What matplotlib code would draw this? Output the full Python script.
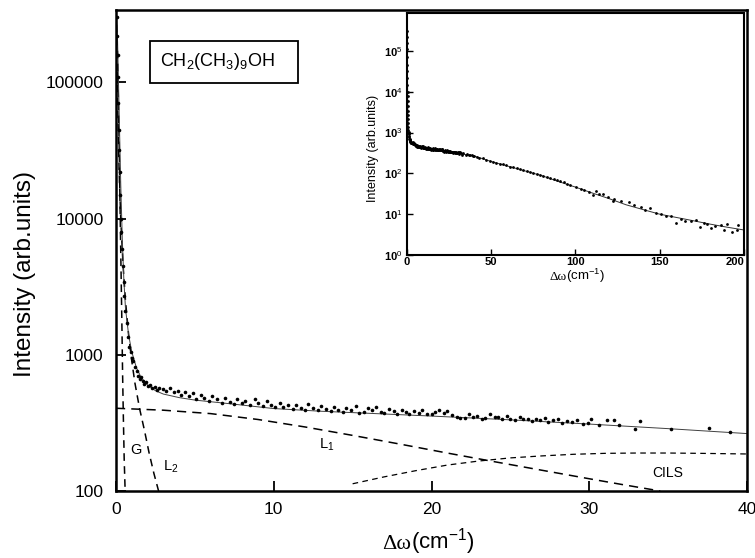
import matplotlib
matplotlib.use("Agg")
import matplotlib.pyplot as plt
from matplotlib.ticker import FixedLocator, NullLocator
from matplotlib.offsetbox import TextArea, HPacker, AnchoredOffsetbox
from matplotlib.patches import Rectangle

plt.rcParams['font.family'] = ['Liberation Sans', 'DejaVu Sans']
plt.rcParams['mathtext.fontset'] = 'custom'
plt.rcParams['mathtext.rm'] = 'Liberation Sans'
plt.rcParams['mathtext.it'] = 'Liberation Sans:italic'
plt.rcParams['mathtext.bf'] = 'Liberation Sans:bold'

# ---------------- data ----------------
# measured points (main panel, also used in the inset)
dots_x = [0.05, 0.08, 0.10, 0.12, 0.15, 0.18, 0.20, 0.23, 0.26, 0.30, 0.34, 0.38,
          0.43, 0.48, 0.53, 0.60, 0.68, 0.77, 0.85, 0.93, 1.0, 1.1, 1.2, 1.3, 1.4,
          1.5, 1.6, 1.7, 1.8, 1.9, 2.0, 2.15, 2.3, 2.45, 2.6, 2.75,
          3.0, 3.2, 3.4, 3.7, 3.9, 4.1, 4.4, 4.6, 4.9, 5.1, 5.4, 5.6, 5.9, 6.1, 6.4,
          6.7, 6.9, 7.2, 7.5, 7.7, 8.0, 8.2, 8.5, 8.8, 9.0, 9.3, 9.6, 9.8, 10.1, 10.4,
          10.6, 10.9, 11.2, 11.4, 11.7, 12.0, 12.2, 12.5, 12.8, 13.0, 13.3, 13.6, 13.8,
          14.1, 14.4, 14.6, 14.9, 15.2, 15.4, 15.7, 16.0, 16.2, 16.5, 16.8, 17.0, 17.3,
          17.6, 17.8, 18.1, 18.4, 18.6, 18.9, 19.2, 19.4, 19.7, 20.0, 20.2, 20.5, 20.8,
          21.0, 21.3, 21.6, 21.8, 22.1, 22.4, 22.6, 22.9, 23.2, 23.4, 23.7, 24.0, 24.2,
          24.5, 24.8, 25.0, 25.3, 25.6, 25.8, 26.1, 26.4, 26.6, 26.9, 27.2, 27.4, 27.7,
          28.0, 28.3, 28.6, 28.9, 29.2, 29.6, 29.9, 30.1, 30.6, 31.1, 31.6, 31.9, 32.9,
          33.2, 35.2, 37.6, 38.9]
dots_y = [300000, 220000, 160000, 110000, 70000, 45000, 32000, 22000, 15000, 10000,
          8000, 6000, 4500, 3400, 2700, 2100, 1700, 1350, 1150, 1050, 950, 900, 820,
          760, 700, 660, 690, 640, 610, 630, 590, 600, 570, 580, 555, 570,
          560, 540, 575, 530, 545, 510, 535, 500, 520, 470, 505, 480, 455, 500, 470,
          445, 480, 450, 432, 470, 440, 455, 425, 470, 445, 420, 460, 430, 415, 440,
          412, 430, 400, 425, 410, 395, 435, 405, 392, 418, 400, 385, 412,
          395, 380, 405, 390, 420, 372, 378, 405, 395, 412, 380, 375, 398,
          385, 370, 392, 382, 365, 388, 375, 392, 368, 370, 378, 395, 372,
          385, 362, 350, 342, 345, 365, 350, 355, 340, 345, 368, 348, 352,
          335, 358, 340, 330, 352, 335, 340, 325, 338, 330, 342, 322, 332,
          335, 318, 326, 320, 330, 312, 318, 335, 305, 334, 334, 307, 287,
          324, 286, 290, 270]

# total fit (solid line)
fit_x = [0.02, 0.1, 0.2, 0.3, 0.4, 0.5, 0.6, 0.8, 1.0, 1.3, 1.6, 2.0, 2.5, 3, 4, 5,
         7, 10, 13, 16, 20, 25, 30, 35, 40]
fit_y = [330000, 200000, 60000, 18000, 7000, 3500, 2200, 1400, 1050, 800, 680, 600,
         545, 515, 485, 465, 440, 403, 385, 372, 355, 333, 310, 287, 264]

# components (dashed)
g_x = [0.0, 0.1, 0.2, 0.28, 0.33, 0.38, 0.42, 0.47, 0.52, 0.58]
g_y = [330000, 160000, 35000, 8000, 3500, 1500, 700, 330, 170, 100]

l2_x = [0.08, 0.12, 0.2, 0.3, 0.45, 0.6, 0.8, 1.0, 1.2, 1.5, 1.8, 2.1, 2.4, 2.7]
l2_y = [120000, 60000, 22000, 10000, 4500, 2500, 1400, 900, 620, 400, 280, 190, 135, 100]

l1_x = [0, 3, 6, 9, 12, 15, 18, 21, 24, 27, 30, 32, 34.5]
l1_y = [405, 392, 370, 335, 295, 256, 221, 190, 164, 142, 123, 112, 100]

cils_x = [15, 17, 19, 21, 23, 25, 27, 29, 31, 33, 35, 37, 40]
cils_y = [113, 127, 141, 155, 166, 175, 181, 186, 189, 190, 190, 189, 187]

# inset: extra measured points beyond the main range
tail_x = [35.5, 37, 38.5, 40, 41.5, 43, 45, 47, 49, 51, 53, 55, 57, 59, 61, 63, 65, 67,
          69, 71, 73, 75, 77, 79, 81, 83, 85, 87, 89, 91, 93, 95, 97,
          100.4, 103.4, 105.3, 108, 110.2, 112, 114.2, 116.6, 119.1, 122, 123, 127,
          132, 135, 138.9, 141, 144.4, 147.7, 150.5, 153.6, 156.6, 159.6, 162.5, 165,
          168.4, 171.4, 173.8, 176.3, 178.3, 180.3, 183, 186.2, 188.2, 190.1, 193.1,
          196, 196.6]
tail_y = [292, 280, 275, 265, 252, 240, 232, 215, 205, 192, 182, 172, 165, 158, 146,
          140, 132, 125, 118, 112, 108, 100, 96, 92, 86, 80, 78, 72, 68, 64, 60, 56, 52,
          46, 42, 38.5, 35, 29, 36, 32, 32, 26.5, 21, 24, 21,
          20, 16.6, 15, 12.5, 13.8, 10.4, 10, 8.9, 8.9, 6.1, 7.8, 7,
          6.9, 7.1, 4.9, 6.1, 5.9, 4.5, 5.2, 5.4, 4.1, 5.7, 3.6,
          4.1, 5.4]
tail_fit_x = [45, 50, 60, 70, 80, 90, 100, 110, 120, 130, 140, 150, 160, 170, 180, 190, 200]
tail_fit_y = [228, 195, 150, 115, 88, 63, 46, 33, 24, 17, 13, 10, 8.3, 6.9, 5.7, 4.8, 4.1]

main_yticks = [100, 1000, 10000, 100000]
main_yticklabels = ['100', '1000', '10000', '100000']
main_xticks = [0, 10, 20, 30, 40]
inset_yticks = [1, 10, 100, 1000, 10000, 100000]
inset_yticklabels = ['10$^{0}$', '10$^{1}$', '10$^{2}$', '10$^{3}$', '10$^{4}$', '10$^{5}$']
inset_xticks = [0, 50, 100, 150, 200]

# ---------------- figure ----------------
W, H = 755, 558
fig = plt.figure(figsize=(W / 100, H / 100), dpi=100)

def fax(l, t, r, b):
    return [l / W, 1 - b / H, (r - l) / W, (b - t) / H]

ax = fig.add_axes(fax(116, 10, 747, 491))
ax.set_yscale('log')
ax.set_xlim(0, 40)
ax.set_ylim(100, 340000)

dash_kw = dict(color='black', lw=1.1)
ax.plot(g_x, g_y, dashes=[5, 3.5], **dash_kw)
ax.plot(l2_x, l2_y, dashes=[5, 3.5], **dash_kw)
ax.plot(l1_x, l1_y, dashes=[6, 4], **dash_kw)
ax.plot(cils_x, cils_y, dashes=[4.5, 3.5], color='black', lw=0.9)
ax.plot(fit_x, fit_y, color='0.25', lw=0.7)
ax.plot(dots_x, dots_y, 'o', color='black', ms=2.6, mec='none')

ax.yaxis.set_major_locator(FixedLocator(main_yticks))
ax.yaxis.set_minor_locator(NullLocator())
ax.set_yticklabels(main_yticklabels)
ax.set_xticks(main_xticks)
ax.tick_params(direction='in', length=7, width=1.3, labelsize=12.5, pad=9)
ax.tick_params(axis='x', pad=8)
for s in ax.spines.values():
    s.set_linewidth(1.8)

# curve labels
ax.text(1.27, 201, 'G', fontsize=10.5, ha='center', va='center')
ax.text(3.0, 150, 'L$_2$', fontsize=10.5, ha='left', va='center')
ax.text(12.9, 218, 'L$_1$', fontsize=10.5, ha='left', va='center')
ax.text(35.0, 136, 'CILS', fontsize=10, ha='center', va='center')

# sample label box
ax.add_patch(Rectangle((0.054, 0.848), 0.234, 0.088, transform=ax.transAxes,
                       fill=False, lw=1.3, ec='black'))
ax.text(0.070, 0.893, 'CH$_2$(CH$_3$)$_9$OH', transform=ax.transAxes,
        fontsize=13, ha='left', va='center')

# axis labels
fig.text(25 / W, 1 - 274 / H, 'Intensity (arb.units)', rotation=90,
         ha='center', va='center', fontsize=17.5)

def delta_label(fs, xc, yc):
    ta1 = TextArea('Δω', textprops=dict(family='Liberation Serif', fontsize=fs))
    ta2 = TextArea('(cm$^{-1}$)', textprops=dict(family='Liberation Sans', fontsize=fs))
    box = HPacker(children=[ta1, ta2], pad=0, sep=0, align='baseline')
    anc = AnchoredOffsetbox(loc='center', child=box, frameon=False, pad=0,
                            bbox_to_anchor=(xc / W, 1 - yc / H),
                            bbox_transform=fig.transFigure, borderpad=0)
    fig.add_artist(anc)

delta_label(16, 428, 542)

# ---------------- inset ----------------
ins = fig.add_axes(fax(407, 13, 744, 255))
ins.set_yscale('log')
ins.set_xlim(0, 200)
ins.set_ylim(1, 850000)
ins.plot(fit_x + tail_fit_x, fit_y + tail_fit_y, color='0.2', lw=0.7)
ins.plot(dots_x + tail_x, dots_y + tail_y, 'o', color='black', ms=2.0, mec='none')
ins.yaxis.set_major_locator(FixedLocator(inset_yticks))
ins.yaxis.set_minor_locator(NullLocator())
ins.set_yticklabels(inset_yticklabels)
ins.set_xticks(inset_xticks)
ins.tick_params(direction='in', length=4, width=1.0, labelsize=8, pad=3)
ins.tick_params(axis='x', pad=1.5)
for lab in ins.get_xticklabels() + ins.get_yticklabels():
    lab.set_fontweight('bold')
ins.get_xticklabels()[-1].set_horizontalalignment('right')
for s in ins.spines.values():
    s.set_linewidth(1.5)

fig.text(373 / W, 1 - 148 / H, 'Intensity (arb.units)', rotation=90,
         ha='center', va='center', fontsize=9)
delta_label(9.5, 577, 276)

fig.savefig('out.png', dpi=100)
